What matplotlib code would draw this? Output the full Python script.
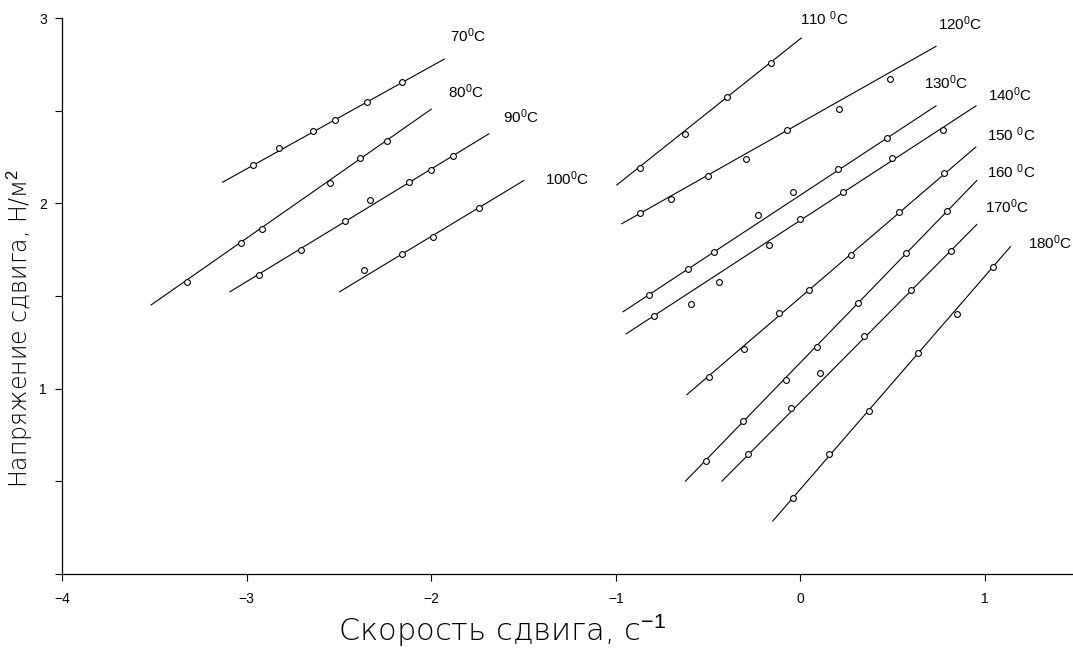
import matplotlib
matplotlib.use('Agg')
import matplotlib.pyplot as plt
from matplotlib.ticker import MultipleLocator

plt.rcParams['font.family'] = ['Liberation Sans', 'DejaVu Sans']
plt.rcParams['mathtext.fontset'] = 'custom'
plt.rcParams['mathtext.rm'] = 'Liberation Sans'
plt.rcParams['mathtext.it'] = 'Liberation Sans'

# series: temperature label, measured points, fitted line ends
temps = ['70', '80', '90', '100', '110 ', '120', '130', '140', '150 ', '160 ', '170', '180']

xs = [
    [-2.968, -2.827, -2.643, -2.524, -2.346, -2.157],
    [-3.324, -3.031, -2.915, -2.551, -2.388, -2.242],
    [-2.935, -2.703, -2.469, -2.330, -2.123, -2.002, -1.881],
    [-2.366, -2.157, -1.993, -1.739],
    [-0.870, -0.623, -0.400, -0.162],
    [-0.870, -0.703, -0.503, -0.296, -0.072, 0.209, 0.486],
    [-0.823, -0.611, -0.470, -0.231, -0.042, 0.204, 0.470],
    [-0.791, -0.595, -0.442, -0.173, -0.004, 0.232, 0.497, 0.773],
    [-0.496, -0.306, -0.114, 0.047, 0.272, 0.535, 0.778],
    [-0.512, -0.310, -0.077, 0.092, 0.310, 0.571, 0.793],
    [-0.283, -0.054, 0.108, 0.344, 0.598, 0.816],
    [-0.038, 0.155, 0.373, 0.638, 0.850, 1.043],
]
ys = [
    [2.205, 2.297, 2.389, 2.449, 2.546, 2.654],
    [1.578, 1.785, 1.861, 2.112, 2.245, 2.339],
    [1.615, 1.750, 1.907, 2.016, 2.117, 2.180, 2.258],
    [1.639, 1.724, 1.820, 1.975],
    [2.193, 2.375, 2.573, 2.758],
    [1.946, 2.025, 2.148, 2.239, 2.396, 2.508, 2.672],
    [1.504, 1.647, 1.739, 1.937, 2.063, 2.185, 2.353],
    [1.391, 1.456, 1.578, 1.775, 1.914, 2.061, 2.243, 2.395],
    [1.065, 1.215, 1.407, 1.531, 1.721, 1.953, 2.161],
    [0.612, 0.827, 1.047, 1.227, 1.463, 1.731, 1.961],
    [0.647, 0.894, 1.085, 1.286, 1.530, 1.742],
    [0.412, 0.650, 0.879, 1.195, 1.402, 1.656],
]

line_x0 = [-3.130, -3.517, -3.090, -2.496, -0.995, -0.968, -0.961, -0.944, -0.615, -0.623, -0.425, -0.150]
line_y0 = [2.114, 1.452, 1.523, 1.523, 2.099, 1.890, 1.415, 1.296, 0.968, 0.501, 0.501, 0.286]
line_x1 = [-1.930, -2.000, -1.688, -1.499, 0.004, 0.734, 0.734, 0.951, 0.950, 0.955, 0.955, 1.137]
line_y1 = [2.778, 2.508, 2.375, 2.123, 2.892, 2.847, 2.526, 2.526, 2.304, 2.123, 1.886, 1.766]

label_x = [-1.897, -1.908, -1.611, -1.384, 0.0, 0.746, 0.670, 1.016, 1.011, 1.011, 1.000, 1.232]
label_y = [2.903, 2.605, 2.470, 2.135, 2.995, 2.968, 2.649, 2.584, 2.373, 2.168, 1.984, 1.789]

fig = plt.figure(figsize=(10.73, 6.48), dpi=100)
ax = fig.add_axes([62 / 1073, 1 - 574 / 648, 1 - 62 / 1073, (574 - 18) / 648])

for i in range(len(temps)):
    ax.plot([line_x0[i], line_x1[i]], [line_y0[i], line_y1[i]], color='black', lw=0.8)
    ax.plot(xs[i], ys[i], linestyle='none', marker='o', ms=4.2, mfc='white',
            mec='black', mew=0.8)
    ax.text(label_x[i], label_y[i], temps[i] + r'$^{0}$C', fontsize=11,
            ha='left', va='center')

ax.set_xlim(-4, 1.476)
ax.set_ylim(0, 3)
ax.spines['top'].set_visible(False)
ax.spines['right'].set_visible(False)
ax.spines['left'].set_linewidth(0.9)
ax.spines['bottom'].set_linewidth(0.9)

ax.set_xticks([-4, -3, -2, -1, 0, 1])
ax.set_xticklabels(['\u22124', '\u22123', '\u22122', '\u22121', '0', '1'])
ax.set_yticks([1, 2, 3])
ax.yaxis.set_minor_locator(MultipleLocator(0.5))
ax.tick_params(axis='both', which='both', direction='out', length=5, width=0.8, labelsize=10)
ax.tick_params(axis='x', pad=8)
ax.tick_params(axis='y', pad=6)

fig.text(502 / 1073, 1 - 630 / 648, 'Скорость сдвига, с$^{-1}$', fontsize=22,
         ha='center', va='center', family=['DejaVu Sans'], fontweight='light')
fig.text(20 / 1073, 1 - 328 / 648, 'Напряжение сдвига, Н/м$^2$', fontsize=17,
         ha='center', va='center', rotation=90, family=['DejaVu Sans'], fontweight='light')

fig.savefig('out.png', dpi=100)
